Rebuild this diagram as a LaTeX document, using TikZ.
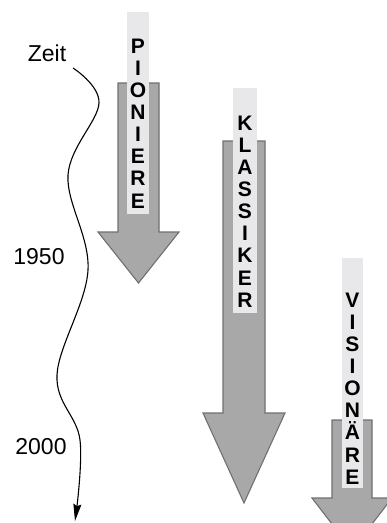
\documentclass[tikz,border=0pt]{standalone}
\usepackage{fontspec}
\setmainfont{Liberation Sans}
\usetikzlibrary{arrows.meta}
\definecolor{shaftgray}{RGB}{168,168,168}
\definecolor{edgegray}{RGB}{112,112,112}
\definecolor{stripgray}{RGB}{232,232,234}
\begin{document}
\begin{tikzpicture}[x=1pt, y=-1pt,
    shaft/.style={fill=shaftgray, draw=edgegray, line width=1.1pt, line join=miter},
    strip/.style={fill=stripgray},
    letters/.style={inner sep=0pt, align=center, font=\fontsize{21}{22.1}\selectfont\bfseries},
    yearlabel/.style={inner sep=0pt, font=\fontsize{23}{26}\selectfont},
    timeline/.style={line width=1.1pt, -{Stealth[length=17pt, width=8pt, inset=2pt]}}]
  \useasboundingbox (0, 0) rectangle (387, 523);
  \clip (0, 0) rectangle (387, 523);
  \draw[shaft] (118, 83) -- ++(41, 0) -- ++(0, 149) -- ++(20, 0) -- ++(-40.5, 51) -- ++(-40.5, -51) -- ++(20, 0) -- cycle;
  \fill[strip] (127, 12) rectangle (149, 214);
  \node[letters] (pioniere) at (138, 123.5) {P\\I\\O\\N\\I\\E\\R\\E};
  \draw[shaft] (223, 141) -- ++(42, 0) -- ++(0, 272) -- ++(20, 0) -- ++(-41, 90) -- ++(-41, -90) -- ++(20, 0) -- cycle;
  \fill[strip] (233, 88) rectangle (257, 313);
  \node[letters] (klassiker) at (245, 211.5) {K\\L\\A\\S\\S\\I\\K\\E\\R};
  \draw[shaft] (332, 420) -- ++(40, 0) -- ++(0, 78) -- ++(20, 0) -- ++(-40, 52) -- ++(-40, -52) -- ++(20, 0) -- cycle;
  \fill[strip] (342, 258) rectangle (363, 488);
  \node[letters] (visionaere) at (352.5, 388.5) {V\\I\\S\\I\\O\\N\\Ä\\R\\E};
  \node[yearlabel] (zeit) at (47, 53) {Zeit};
  \node[yearlabel] (y1950) at (39, 257) {1950};
  \node[yearlabel] (y2000) at (41, 447) {2000};
  \coordinate (tstart) at (73, 68);
  \coordinate (tend) at (75, 521);
  \draw[timeline] plot[smooth, tension=0.6] coordinates {(tstart) (99, 103) (68, 175) (88, 270) (57, 375) (80, 440) (tend)};
\end{tikzpicture}
\end{document}
